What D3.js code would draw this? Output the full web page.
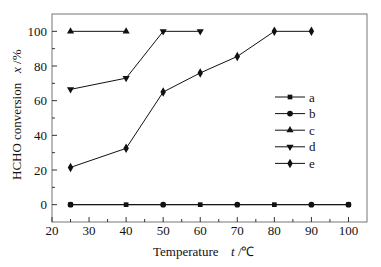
<!DOCTYPE html>
<html>
<head>
<meta charset="utf-8">
<script src="https://d3js.org/d3.v7.min.js"></script>
<style>
  body { margin: 0; background: #fff; }
  text { font-family: "Liberation Serif", "Times New Roman", serif; font-size: 13px; fill: #111; }
</style>
</head>
<body>
<svg width="381" height="267"></svg>
<script>
// series data (temperature in C, conversion in %)
var aTemp = [25, 40, 60, 80, 100], aVal = [0, 0, 0, 0, 0];
var bTemp = [25, 50, 70, 90, 100], bVal = [0, 0, 0, 0, 0];
var cTemp = [25, 40], cVal = [100, 100];
var dTemp = [25, 40, 50, 60], dVal = [66.5, 73, 100, 100];
var eTemp = [25, 40, 50, 60, 70, 80, 90], eVal = [21.5, 32.5, 65, 76, 85.5, 100, 100];
var seriesNames = ['a', 'b', 'c', 'd', 'e'];
var xTicks = [20, 30, 40, 50, 60, 70, 80, 90, 100];
var yTicks = [0, 20, 40, 60, 80, 100];

var series = [
  { name: 'a', t: aTemp, v: aVal, sym: d3.symbolSquare, size: 22 },
  { name: 'b', t: bTemp, v: bVal, sym: d3.symbolCircle, size: 26 },
  { name: 'c', t: cTemp, v: cVal, sym: d3.symbolTriangle, size: 22 },
  { name: 'd', t: dTemp, v: dVal, sym: d3.symbolTriangle, size: 22, flip: true },
  { name: 'e', t: eTemp, v: eVal, sym: d3.symbolDiamond, size: 26 }
];

var svg = d3.select('svg');
var mLeft = 52, mRight = 367, mTop = 14, mBottom = 222;

var x = d3.scaleLinear().domain([20, 105]).range([mLeft, mRight]);
var y = d3.scaleLinear().domain([-10, 110]).range([mBottom, mTop]);

// frame
svg.append('rect')
   .attr('x', mLeft).attr('y', mTop)
   .attr('width', mRight - mLeft).attr('height', mBottom - mTop)
   .attr('fill', 'none').attr('stroke', '#777').attr('stroke-width', 1);

// x ticks (inward, with minor)
var xMinor = d3.range(25, 105, 10);
var gx = svg.append('g').attr('transform', 'translate(0,' + mBottom + ')');
gx.selectAll('line.maj').data(xTicks).enter().append('line')
  .attr('x1', d => x(d)).attr('x2', d => x(d)).attr('y1', 0).attr('y2', -5)
  .attr('stroke', '#333');
gx.selectAll('line.min').data(xMinor).enter().append('line')
  .attr('x1', d => x(d)).attr('x2', d => x(d)).attr('y1', 0).attr('y2', -3)
  .attr('stroke', '#333');
gx.selectAll('text').data(xTicks).enter().append('text')
  .attr('x', d => x(d)).attr('y', 13).attr('text-anchor', 'middle')
  .text(d => d);

// y ticks (inward, with minor)
var yMinor = d3.range(-10, 110, 20).slice(1);
var gy = svg.append('g').attr('transform', 'translate(' + mLeft + ',0)');
gy.selectAll('line.maj').data(yTicks).enter().append('line')
  .attr('x1', 0).attr('x2', 5).attr('y1', d => y(d)).attr('y2', d => y(d))
  .attr('stroke', '#333');
gy.selectAll('line.min').data(yMinor).enter().append('line')
  .attr('x1', 0).attr('x2', 3).attr('y1', d => y(d)).attr('y2', d => y(d))
  .attr('stroke', '#333');
gy.selectAll('text').data(yTicks).enter().append('text')
  .attr('x', -5).attr('y', d => y(d) + 4.5).attr('text-anchor', 'end')
  .text(d => d);

// lines and markers
var line = d3.line().x(d => x(d[0])).y(d => y(d[1]));
series.forEach(function(s) {
  var pts = s.t.map((t, i) => [t, s.v[i]]);
  svg.append('path').datum(pts)
     .attr('d', line).attr('fill', 'none').attr('stroke', '#111').attr('stroke-width', 1);
});
series.forEach(function(s) {
  var pts = s.t.map((t, i) => [t, s.v[i]]);
  svg.selectAll(null).data(pts).enter().append('path')
     .attr('d', d3.symbol().type(s.sym).size(s.size))
     .attr('transform', d => 'translate(' + x(d[0]) + ',' + y(d[1]) + ')' + (s.flip ? ' rotate(180)' : ''))
     .attr('fill', '#111');
});

// legend
var lg = svg.append('g').attr('transform', 'translate(275,97)');
series.forEach(function(s, i) {
  var g = lg.append('g').attr('transform', 'translate(0,' + (i * 16.6) + ')');
  g.append('line').attr('x1', 0).attr('x2', 30).attr('stroke', '#111');
  g.append('path').attr('d', d3.symbol().type(s.sym).size(s.size))
   .attr('transform', 'translate(15,0)' + (s.flip ? ' rotate(180)' : ''))
   .attr('fill', '#111');
  g.append('text').attr('x', 34).attr('y', 4.5).text(seriesNames[i]);
});

// axis titles
var xt = svg.append('text').attr('x', 153).attr('y', 256);
xt.append('tspan').text('Temperature');
xt.append('tspan').attr('x', 231).attr('font-style', 'italic').text('t');
xt.append('tspan').text(' /\u2103');

var yt = svg.append('text').attr('transform', 'translate(21,180) rotate(-90)');
yt.append('tspan').text('HCHO conversion');
yt.append('tspan').attr('x', 107).attr('font-style', 'italic').text('x');
yt.append('tspan').text(' /%');
</script>
</body>
</html>
